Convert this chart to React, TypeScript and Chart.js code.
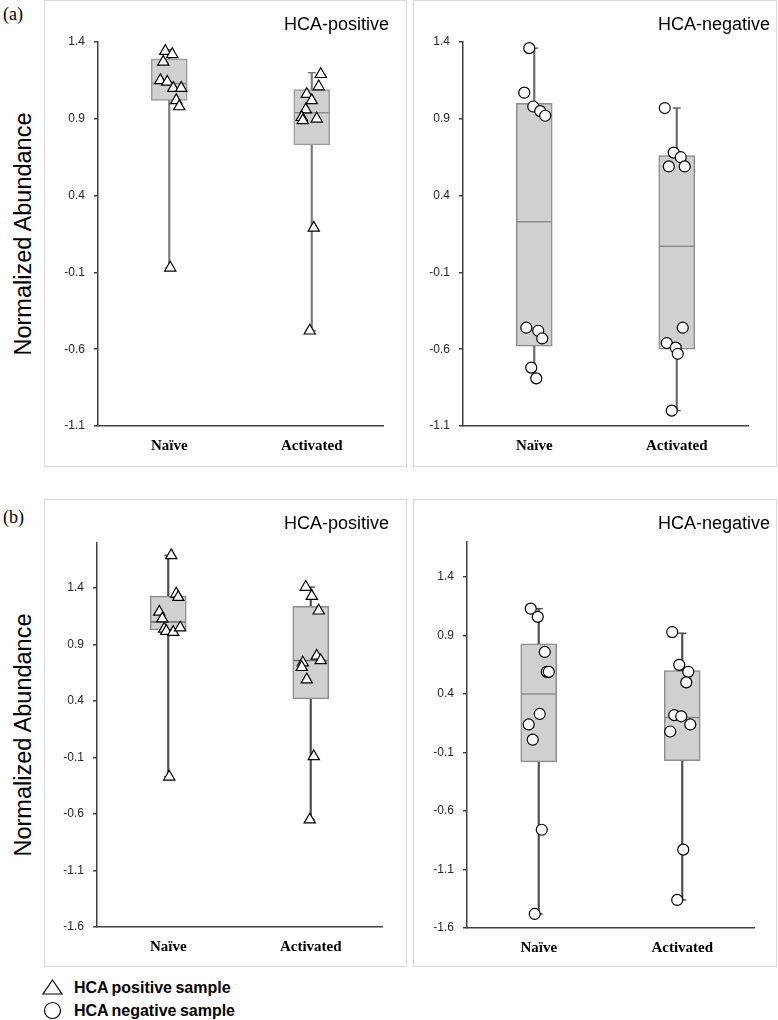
import React, { useEffect, useRef } from 'react';
import { Chart, registerables } from 'chart.js';

Chart.register(...registerables);

// ---------- data ----------
const categories = ['Naïve', 'Activated'];
const ticksA = [-1.1, -0.6, -0.1, 0.4, 0.9, 1.4];
const ticksB = [-1.6, -1.1, -0.6, -0.1, 0.4, 0.9, 1.4];
const rangeA = [-1.1, 1.4];
const rangeBPos = [-1.6, 1.8];
const rangeBNeg = [-1.6, 1.7];

// (a) HCA-positive
const aPosNaive = [1.34, 1.32, 1.27, 1.15, 1.14, 1.1, 1.1, 1.02, 0.98, -0.07];
const aPosNaiveJit = [-0.028, 0.021, -0.042, -0.063, -0.014, 0.028, 0.084, 0.049, 0.07, 0.007];
const aPosAct = [1.19, 1.11, 1.06, 1.02, 0.96, 0.91, 0.89, 0.9, 0.19, -0.48];
const aPosActJit = [0.063, 0.049, -0.035, 0.0, -0.042, -0.07, -0.063, 0.035, 0.014, -0.014];
const aPosMin = [-0.07, -0.48];
const aPosQ1 = [1.02, 0.73];
const aPosMed = [1.13, 0.94];
const aPosQ3 = [1.29, 1.09];
const aPosMax = [1.35, 1.2];

// (a) HCA-negative
const aNegNaive = [1.36, 1.07, 0.98, 0.95, 0.92, -0.46, -0.48, -0.53, -0.72, -0.79];
const aNegNaiveJit = [-0.035, -0.07, -0.007, 0.042, 0.077, -0.056, 0.028, 0.056, -0.021, 0.014];
const aNegAct = [0.97, 0.68, 0.65, 0.59, 0.59, -0.46, -0.56, -0.59, -0.63, -1.0];
const aNegActJit = [-0.084, -0.021, 0.028, -0.056, 0.056, 0.042, -0.07, -0.007, 0.007, -0.035];
const aNegMin = [-0.79, -1.0];
const aNegQ1 = [-0.58, -0.6];
const aNegMed = [0.23, 0.07];
const aNegQ3 = [1.0, 0.66];
const aNegMax = [1.36, 0.97];

// (b) HCA-positive
const bPosNaive = [1.69, 1.35, 1.32, 1.19, 1.13, 1.04, 1.02, 1.01, 1.05, -0.27];
const bPosNaiveJit = [0.021, 0.056, 0.07, -0.063, -0.042, -0.028, -0.014, 0.035, 0.084, 0.007];
const bPosAct = [1.41, 1.33, 1.2, 0.8, 0.76, 0.74, 0.7, 0.59, -0.09, -0.65];
const bPosActJit = [-0.035, 0.007, 0.056, 0.042, 0.07, -0.056, -0.063, -0.028, 0.021, -0.007];
const bPosMin = [-0.27, -0.65];
const bPosQ1 = [1.03, 0.42];
const bPosMed = [1.1, 0.76];
const bPosQ3 = [1.33, 1.24];
const bPosMax = [1.69, 1.41];

// (b) HCA-negative
const bNegNaive = [1.13, 1.06, 0.76, 0.59, 0.59, 0.23, 0.14, 0.01, -0.76, -1.48];
const bNegNaiveJit = [-0.056, -0.007, 0.042, 0.056, 0.07, 0.007, -0.07, -0.042, 0.021, -0.028];
const bNegAct = [0.93, 0.65, 0.59, 0.5, 0.22, 0.21, 0.14, 0.08, -0.93, -1.36];
const bNegActJit = [-0.07, -0.021, 0.042, 0.028, -0.056, -0.007, 0.056, -0.084, 0.007, -0.035];
const bNegMin = [-1.48, -1.36];
const bNegQ1 = [-0.18, -0.17];
const bNegMed = [0.4, 0.2];
const bNegQ3 = [0.83, 0.6];
const bNegMax = [1.13, 0.92];

// ---------- component ----------
type PanelProps = {
  left: number; top: number; width: number; height: number;
  yAxisW: number; padRight: number; padTop: number; xAxisH: number;
  range: number[]; yTicks: number[];
  naive: number[]; naiveJit: number[]; act: number[]; actJit: number[];
  mins: number[]; q1: number[]; med: number[]; q3: number[]; maxs: number[];
  marker: 'triangle' | 'circle';
  whiskerColor: string; medianColor: string; boxBorder: string;
  title: string;
};

function Panel(p: PanelProps) {
  const ref = useRef<HTMLCanvasElement | null>(null);
  useEffect(() => {
    if (!ref.current) return;
    const pts = [
      ...p.naive.map((v, i) => ({ x: 0 + p.naiveJit[i], y: v })),
      ...p.act.map((v, i) => ({ x: 1 + p.actJit[i], y: v })),
    ];
    const boxExtras = {
      id: 'boxExtras',
      afterDatasetDraw(chart: any, args: any) {
        const ds = chart.data.datasets[args.index];
        if (ds.label !== 'box') return;
        const ctx = chart.ctx;
        const y = chart.scales.y;
        ctx.save();
        args.meta.data.forEach((el: any, i: number) => {
          const { x, width } = el.getProps(['x', 'width'], true);
          const ym = y.getPixelForValue(p.med[i]);
          ctx.strokeStyle = p.medianColor;
          ctx.lineWidth = 1.5;
          ctx.beginPath();
          ctx.moveTo(x - width / 2 + 1, ym);
          ctx.lineTo(x + width / 2 - 1, ym);
          ctx.stroke();
          ctx.strokeStyle = p.whiskerColor;
          [p.mins[i], p.maxs[i]].forEach((v) => {
            const yc = y.getPixelForValue(v);
            ctx.beginPath();
            ctx.moveTo(x - 4, yc);
            ctx.lineTo(x + 4, yc);
            ctx.stroke();
          });
        });
        ctx.restore();
      },
    };
    const chart = new Chart(ref.current, {
      type: 'bar',
      data: {
        labels: categories,
        datasets: [
          {
            label: 'points',
            type: 'scatter',
            xAxisID: 'xj',
            yAxisID: 'y',
            data: pts,
            pointStyle: p.marker,
            pointRadius: p.marker === 'triangle' ? 6.5 : 5.5,
            pointBackgroundColor: '#ffffff',
            pointBorderColor: '#000000',
            pointBorderWidth: 1.2,
            order: 1,
          } as any,
          {
            label: 'box',
            xAxisID: 'x',
            yAxisID: 'y',
            data: p.q1.map((v, i) => [v, p.q3[i]]),
            backgroundColor: '#d0d0d0',
            borderColor: p.boxBorder,
            borderWidth: 1.5,
            borderSkipped: false,
            barThickness: 36,
            grouped: false,
            order: 2,
          } as any,
          {
            label: 'whisker',
            xAxisID: 'x',
            yAxisID: 'y',
            data: p.mins.map((v, i) => [v, p.maxs[i]]),
            backgroundColor: p.whiskerColor,
            borderWidth: 0,
            barThickness: 1.5,
            grouped: false,
            order: 3,
          } as any,
        ],
      },
      options: {
        responsive: false,
        animation: false,
        events: [],
        layout: { padding: { top: p.padTop, right: p.padRight, left: 0, bottom: 0 } },
        plugins: {
          legend: { display: false },
          tooltip: { enabled: false },
          title: { display: false },
        },
        scales: {
          x: {
            type: 'category',
            offset: true,
            grid: { display: false, drawTicks: false },
            border: { display: true, color: '#404040', width: 1.5 },
            ticks: {
              padding: 11,
              color: '#000000',
              font: { family: '"Liberation Serif", serif', size: 15, weight: 'bold' },
            },
            afterFit: (s: any) => { s.height = p.xAxisH; },
          },
          xj: { type: 'linear', display: false, offset: false, grid: { offset: false }, min: -0.5, max: 1.5 },
          y: {
            type: 'linear',
            min: p.range[0],
            max: p.range[1],
            afterBuildTicks: (s: any) => { s.ticks = p.yTicks.map((v) => ({ value: v })); },
            grid: { display: true, drawOnChartArea: false, drawTicks: true, tickLength: 4, color: '#404040', lineWidth: 1.5 },
            border: { display: true, color: '#404040', width: 1.5 },
            ticks: {
              padding: 9,
              color: '#262626',
              font: { family: '"Liberation Sans", sans-serif', size: 12 },
              callback: (v: any) => Number(v).toFixed(1),
            },
            afterFit: (s: any) => { s.width = p.yAxisW; },
          },
        },
      } as any,
      plugins: [boxExtras as any],
    });
    return () => chart.destroy();
  }, []);
  return (
    <>
      <div style={{ position: 'absolute', left: p.left, top: p.top, width: p.width, height: p.height, border: '1px solid #d9d9d9', boxSizing: 'border-box' }} />
      <canvas ref={ref} width={p.width} height={p.height} style={{ position: 'absolute', left: p.left, top: p.top, width: p.width, height: p.height }} />
      <div style={{ position: 'absolute', left: p.left, top: p.top + 15, width: p.width - (p.title === 'HCA-positive' ? 18 : 7), textAlign: 'right', font: '18px "Liberation Sans", sans-serif', lineHeight: '18px', color: '#000' }}>{p.title}</div>
    </>
  );
}

function YLabel({ cy }: { cy: number }) {
  return (
    <div style={{ position: 'absolute', left: 25 - 150, top: cy - 15, width: 300, height: 30, lineHeight: '30px', textAlign: 'center', transform: 'rotate(-90deg)', font: '23.5px "Liberation Sans", sans-serif', color: '#000' }}>
      Normalized Abundance
    </div>
  );
}

export default function App() {
  const common = { marker: 'triangle' as const };
  return (
    <div style={{ position: 'absolute', left: 0, top: 0, width: 778, height: 1020, background: '#fff', overflow: 'hidden' }}>
      <div style={{ position: 'absolute', left: 3, top: 4, font: '18px "Liberation Serif", serif', lineHeight: '20px' }}>(a)</div>
      <div style={{ position: 'absolute', left: 3, top: 507, font: '18px "Liberation Serif", serif', lineHeight: '20px' }}>(b)</div>
      <YLabel cy={234} />
      <YLabel cy={735} />
      <Panel left={44} top={0} width={363} height={467} yAxisW={54} padRight={24} padTop={42} xAxisH={41}
        range={rangeA} yTicks={ticksA} naive={aPosNaive} naiveJit={aPosNaiveJit} act={aPosAct} actJit={aPosActJit}
        mins={aPosMin} q1={aPosQ1} med={aPosMed} q3={aPosQ3} maxs={aPosMax} {...common}
        whiskerColor="#7a7a7a" medianColor="#8c8c8c" boxBorder="#9a9a9a" title="HCA-positive" />
      <Panel left={413} top={0} width={364} height={467} yAxisW={50} padRight={29} padTop={42} xAxisH={41}
        range={rangeA} yTicks={ticksA} naive={aNegNaive} naiveJit={aNegNaiveJit} act={aNegAct} actJit={aNegActJit}
        mins={aNegMin} q1={aNegQ1} med={aNegMed} q3={aNegQ3} maxs={aNegMax} marker="circle"
        whiskerColor="#6a6a6a" medianColor="#8c8c8c" boxBorder="#8c8c8c" title="HCA-negative" />
      <Panel left={44} top={499} width={363} height={468} yAxisW={53} padRight={25} padTop={44} xAxisH={40}
        range={rangeBPos} yTicks={ticksB} naive={bPosNaive} naiveJit={bPosNaiveJit} act={bPosAct} actJit={bPosActJit}
        mins={bPosMin} q1={bPosQ1} med={bPosMed} q3={bPosQ3} maxs={bPosMax} {...common}
        whiskerColor="#4d4d4d" medianColor="#6a6a6a" boxBorder="#8c8c8c" title="HCA-positive" />
      <Panel left={413} top={499} width={364} height={468} yAxisW={54} padRight={23} padTop={43} xAxisH={39}
        range={rangeBNeg} yTicks={ticksB} naive={bNegNaive} naiveJit={bNegNaiveJit} act={bNegAct} actJit={bNegActJit}
        mins={bNegMin} q1={bNegQ1} med={bNegMed} q3={bNegQ3} maxs={bNegMax} marker="circle"
        whiskerColor="#4d4d4d" medianColor="#8c8c8c" boxBorder="#8c8c8c" title="HCA-negative" />
      <svg style={{ position: 'absolute', left: 0, top: 970 }} width={80} height={50}>
        <polygon points="52.5,10 62,24 43,24" fill="#fff" stroke="#000" strokeWidth={1.2} />
        <circle cx={52.5} cy={40.5} r={8} fill="#fff" stroke="#000" strokeWidth={1.2} />
      </svg>
      <div style={{ position: 'absolute', left: 74, top: 978, font: 'bold 16px "Liberation Sans", sans-serif', lineHeight: '20px', wordSpacing: '-1px' }}>HCA positive sample</div>
      <div style={{ position: 'absolute', left: 74, top: 1001, font: 'bold 16px "Liberation Sans", sans-serif', lineHeight: '20px', wordSpacing: '-1px' }}>HCA negative sample</div>
    </div>
  );
}
